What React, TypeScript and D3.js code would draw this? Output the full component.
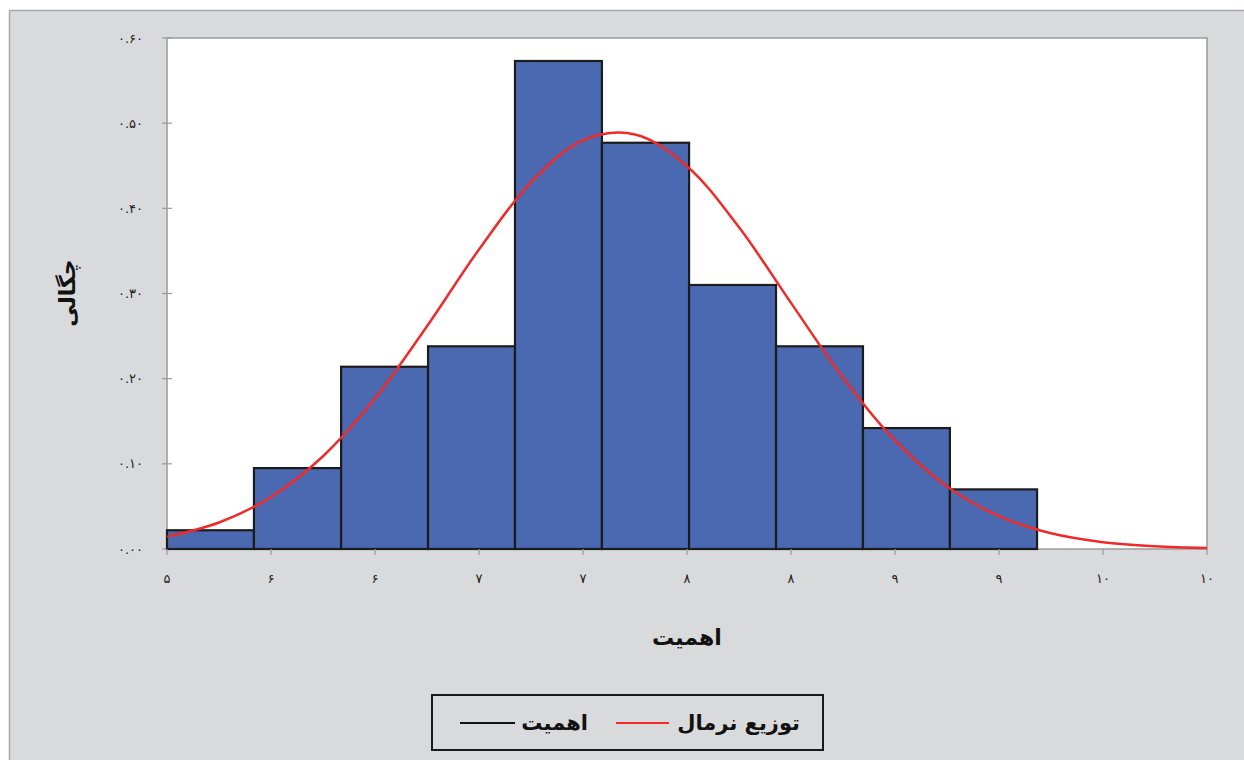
import React from "react";
import * as d3 from "d3";

// ---- data ----
const binEdges = [5.0, 5.418, 5.837, 6.255, 6.673, 7.091, 7.51, 7.928, 8.346, 8.764, 9.183];
const binDensity = [0.022, 0.095, 0.214, 0.238, 0.573, 0.477, 0.31, 0.238, 0.142, 0.07];
const curveX = [5.0, 5.25, 5.5, 5.75, 6.0, 6.25, 6.5, 6.75, 7.0, 7.25, 7.5, 7.75, 8.0, 8.25, 8.5, 8.75, 9.0, 9.25, 9.5, 9.75, 10.0];
const curveY = [0.0145, 0.0311, 0.0611, 0.1089, 0.1769, 0.2615, 0.3517, 0.4306, 0.4799, 0.4868, 0.4495, 0.3777, 0.289, 0.2012, 0.1275, 0.0735, 0.0386, 0.0184, 0.008, 0.0032, 0.0011];
const xTickValues = [5, 5.5, 6, 6.5, 7, 7.5, 8, 8.5, 9, 9.5, 10];
const xTickLabels = ["۵", "۶", "۶", "۷", "۷", "۸", "۸", "۹", "۹", "۱۰", "۱۰"];
const yTickValues = [0, 0.1, 0.2, 0.3, 0.4, 0.5, 0.6];
const yTickLabels = ["۰.۰۰", "۰.۱۰", "۰.۲۰", "۰.۳۰", "۰.۴۰", "۰.۵۰", "۰.۶۰"];
const xTitle = "اهمیت";
const yTitle = "چگالی";
const legendNames = ["توزیع نرمال", "اهمیت"];

const W = 1244;
const H = 760;
const plot = { left: 167, right: 1207, top: 38, bottom: 549 };
const FONT = "'DejaVu Sans', sans-serif";

export default function App() {
  const x = d3.scaleLinear().domain([5, 10]).range([plot.left, plot.right]);
  const y = d3.scaleLinear().domain([0, 0.6]).range([plot.bottom, plot.top]);
  const pts: [number, number][] = curveX.map((v, i) => [v, curveY[i]]);
  const line = d3
    .line<[number, number]>()
    .x((d) => x(d[0]))
    .y((d) => y(d[1]))
    .curve(d3.curveCatmullRom.alpha(0.5));

  return (
    <div style={{ position: "absolute", left: 0, top: 0 }}>
      <svg width={W} height={H} style={{ display: "block" }}>
        <rect x={9.5} y={10.5} width={1240} height={760} fill="#d9dadc" stroke="#a9a9a9" strokeWidth={1.5} />
        <rect x={plot.left} y={plot.top} width={plot.right - plot.left} height={plot.bottom - plot.top} fill="#ffffff" stroke="#9a9a9a" strokeWidth={1.5} />
        {/* y ticks */}
        {yTickValues.map((v, i) => (
          <g key={"y" + i}>
            <line x1={plot.left - 5} x2={plot.left + (i === 0 ? 0 : 5)} y1={y(v)} y2={y(v)} stroke="#9a9a9a" strokeWidth={1.2} />
            <text x={143} y={y(v)} dy="0.35em" textAnchor="end" fontFamily={FONT} fontSize={13} letterSpacing={1.5} fill="#222" style={{ direction: "ltr" }}>
              {yTickLabels[i]}
            </text>
          </g>
        ))}
        {/* bars */}
        {binDensity.map((d, i) => (
          <rect
            key={"b" + i}
            x={x(binEdges[i])}
            y={y(d)}
            width={x(binEdges[i + 1]) - x(binEdges[i])}
            height={y(0) - y(d)}
            fill="#4b69b0"
            stroke="#1c1c1c"
            strokeWidth={2.2}
          />
        ))}
        {/* x ticks */}
        {xTickValues.map((v, i) => (
          <g key={"x" + i}>
            <line x1={x(v)} x2={x(v)} y1={plot.bottom} y2={plot.bottom + 6} stroke="#9a9a9a" strokeWidth={1.2} />
            <text x={x(v)} y={583} textAnchor="middle" fontFamily={FONT} fontSize={13} letterSpacing={1} fill="#222">
              {xTickLabels[i]}
            </text>
          </g>
        ))}
        <path d={line(pts) || ""} fill="none" stroke="#ee2a2a" strokeWidth={2.5} />
        {/* axis titles */}
        <text x={687} y={645} textAnchor="middle" fontFamily={FONT} fontSize={22} fontWeight="bold" fill="#111">
          {xTitle}
        </text>
        <text transform={`translate(75,293) rotate(-90)`} textAnchor="middle" fontFamily={FONT} fontSize={22} fontWeight="bold" fill="#111">
          {yTitle}
        </text>
        {/* legend */}
        <rect x={432} y={695} width={391} height={55} fill="none" stroke="#1a1a1a" strokeWidth={2} />
        <text x={800} y={730} textAnchor="end" fontFamily={FONT} fontSize={21} fontWeight="bold" fill="#111">
          {legendNames[0]}
        </text>
        <line x1={616} x2={669} y1={723} y2={723} stroke="#ee2a2a" strokeWidth={2} />
        <text x={588} y={730} textAnchor="end" fontFamily={FONT} fontSize={21} fontWeight="bold" fill="#111">
          {legendNames[1]}
        </text>
        <line x1={460} x2={515} y1={723} y2={723} stroke="#111" strokeWidth={2} />
      </svg>
    </div>
  );
}
